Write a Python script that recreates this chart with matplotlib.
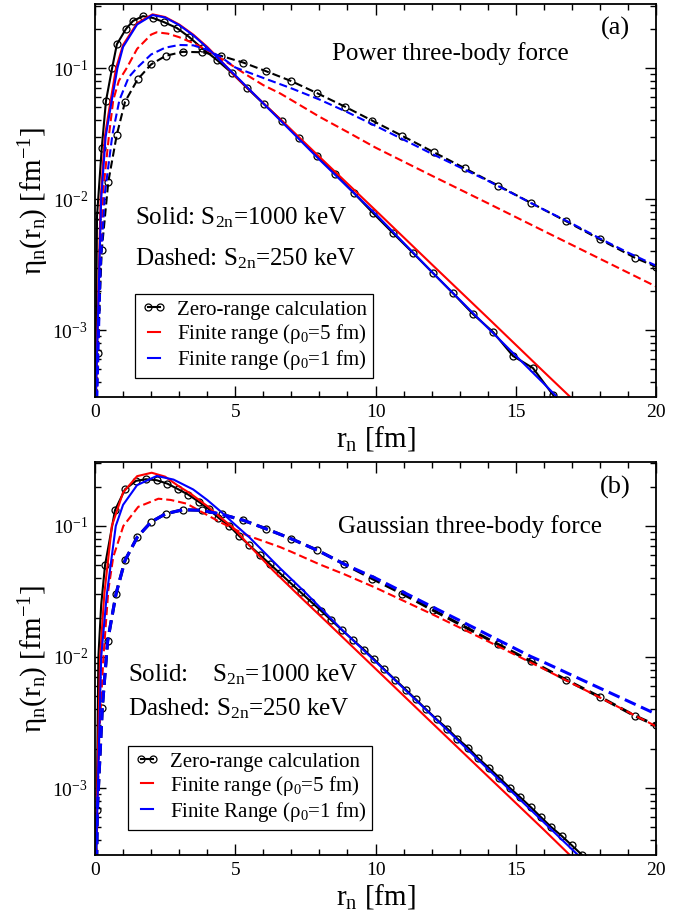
import matplotlib.pyplot as plt
from matplotlib.ticker import FixedLocator, LogLocator, MultipleLocator, NullFormatter

plt.rcParams['font.family'] = ['Liberation Serif', 'DejaVu Serif']
plt.rcParams['mathtext.fontset'] = 'custom'
plt.rcParams['mathtext.rm'] = 'Liberation Serif'
plt.rcParams['mathtext.it'] = 'Liberation Serif:italic'
plt.rcParams['mathtext.bf'] = 'Liberation Serif:bold'

# ---------------- panel (a): power three-body force ----------------
# zero-range, S2n = 1000 keV (solid, circles)
r_zr_s_a = [0.02, 0.046, 0.071, 0.24, 0.39, 0.61, 0.78, 1.105, 1.355, 1.71, 2.07, 2.46,
            2.92, 3.35, 3.81, 4.35, 4.88, 5.42, 6.02, 6.67, 7.27, 7.91, 8.56, 9.23,
            9.91, 10.62, 11.34, 12.05, 12.76, 13.48, 14.19, 14.9, 15.61, 16.33, 16.6]
eta_zr_s_a = [2e-4, 1.45e-3, 7.4e-3, 0.0245, 0.056, 0.1, 0.152, 0.199, 0.229, 0.249, 0.241, 0.224,
              0.202, 0.173, 0.142, 0.115, 0.0916, 0.0704, 0.0531, 0.0394, 0.0292, 0.0213, 0.0155, 0.0111,
              0.00782, 0.0055, 0.00387, 0.00272, 0.00191, 0.00132, 9.66e-4, 6.34e-4, 5.13e-4, 3.19e-4, 2.5e-4]
# zero-range, S2n = 250 keV (dashed, circles)
r_zr_d_a = [0.05, 0.096, 0.24, 0.474, 0.774, 1.07, 1.52, 2.0, 2.52, 3.13, 3.8, 4.49, 5.29,
            6.08, 6.99, 7.93, 8.91, 9.89, 10.96, 12.09, 13.19, 14.38, 15.53, 16.78, 18.0, 19.25, 20.0]
eta_zr_d_a = [2e-4, 6.67e-4, 4.08e-3, 0.01355, 0.0308, 0.0553, 0.082, 0.1066, 0.124, 0.133, 0.132, 0.124, 0.110,
              0.0949, 0.0796, 0.0641, 0.0507, 0.0396, 0.0303, 0.0227, 0.01713, 0.01264, 0.00937, 0.00679, 0.00492, 0.00356, 0.00304]
# finite range rho0 = 5 fm
r_fr5_s_a = [0.03, 0.2, 0.35, 0.56, 0.75, 1.0, 1.5, 2.05, 2.5, 3.0, 3.5, 4.0, 4.5, 5.0,
             6.0, 7.0, 8.0, 10.0, 12.0, 14.0, 16.0, 17.2]
eta_fr5_s_a = [3e-4, 0.01, 0.03, 0.057, 0.1, 0.15, 0.22, 0.257, 0.245, 0.215, 0.18, 0.145, 0.113, 0.0865,
               0.054, 0.0337, 0.021, 0.0082, 0.00318, 0.00124, 4.8e-4, 2.73e-4]
r_fr5_d_a = [0.06, 0.17, 0.3, 0.5, 0.65, 0.85, 1.13, 1.5, 2.0, 2.2, 2.6, 3.0, 3.5, 4.0, 4.5,
             5.0, 5.41, 6.0, 6.6, 7.0, 8.0, 9.09, 10.0, 12.0, 14.0, 16.0, 18.0, 20.0]
eta_fr5_d_a = [3e-4, 3e-3, 0.012, 0.031, 0.057, 0.08, 0.1, 0.14, 0.18, 0.1875, 0.183, 0.172, 0.155, 0.137, 0.118,
               0.101, 0.0885, 0.074, 0.064, 0.057, 0.0425, 0.0317, 0.0247, 0.0151, 0.0093, 0.0057, 0.0035, 0.00215]
# finite range rho0 = 1 fm
r_fr1_s_a = [0.03, 0.22, 0.38, 0.6, 0.8, 1.0, 1.5, 2.05, 2.5, 3.0, 3.5, 4.0, 4.5, 5.0,
             6.0, 7.0, 8.0, 10.0, 12.0, 14.0, 16.0, 16.7]
eta_fr1_s_a = [3e-4, 0.01, 0.03, 0.057, 0.1, 0.145, 0.215, 0.254, 0.243, 0.213, 0.178, 0.143, 0.112, 0.088,
               0.0537, 0.0328, 0.02, 0.0077, 0.00279, 1.04e-3, 3.9e-4, 2.75e-4]
r_fr1_d_a = [0.08, 0.2, 0.35, 0.62, 0.87, 1.2, 1.49, 2.0, 2.5, 3.0, 3.5, 4.0, 4.5, 5.0,
             6.0, 7.0, 8.0, 9.0, 10.0, 11.0, 12.0, 13.0, 14.0, 15.0, 16.0, 17.0, 18.0, 19.0, 20.0]
eta_fr1_d_a = [3e-4, 3e-3, 0.011, 0.031, 0.057, 0.085, 0.1, 0.127, 0.143, 0.150, 0.149, 0.138, 0.121, 0.101,
               0.084, 0.070, 0.0575, 0.046, 0.0362, 0.0284, 0.0222, 0.0175, 0.0138, 0.0107, 0.0083, 0.0065, 0.0050, 0.0039, 0.0031]

# ---------------- panel (b): Gaussian three-body force ----------------
r_zr_s_b = [0.02, 0.12, 0.22, 0.357, 0.713, 1.07, 1.46, 1.82, 2.2, 2.58, 2.95, 3.33, 3.71, 4.07,
            4.40, 4.79, 5.14, 5.5, 5.87, 6.24, 6.6, 6.97, 7.33, 7.7, 8.06, 8.42, 8.79, 9.21, 9.59,
            9.95, 10.31, 10.7, 11.08, 11.44, 11.8, 12.18, 12.56, 12.92, 13.31, 13.66, 14.05, 14.41,
            14.79, 15.15, 15.53, 15.89, 16.26, 16.64, 16.99, 17.37, 17.6]
eta_zr_s_b = [1e-4, 0.01, 0.025, 0.0501, 0.132, 0.1905, 0.221, 0.2275, 0.2235, 0.2105, 0.1915, 0.1733, 0.1525, 0.134,
              0.1156, 0.1, 0.0839, 0.0713, 0.0604, 0.0511, 0.0434, 0.0367, 0.0312, 0.0264, 0.0225, 0.0191, 0.01615, 0.0134, 0.01137,
              0.0096, 0.00805, 0.00671, 0.00563, 0.00475, 0.00399, 0.00334, 0.00284, 0.00238, 0.00202, 0.00169, 0.00142, 0.0012,
              0.001, 8.53e-4, 7.16e-4, 6.01e-4, 5.04e-4, 4.3e-4, 3.66e-4, 3.07e-4, 2.8e-4]
mark_zr_s_b = [0] + list(range(3, len(r_zr_s_b)))
r_zr_d_b = [0.05, 0.083, 0.26, 0.45, 0.75, 1.07, 1.51, 2.0, 2.52, 3.13, 3.8, 4.52, 5.29,
            6.08, 6.99, 7.93, 8.89, 9.89, 10.96, 12.06, 13.19, 14.36, 15.53, 16.78, 18.0, 19.25, 20.0]
eta_zr_d_b = [2e-4, 6.76e-4, 4.08e-3, 0.01324, 0.0304, 0.0547, 0.0824, 0.1074, 0.124, 0.133, 0.1318, 0.1227, 0.1105,
              0.0955, 0.080, 0.0652, 0.0511, 0.0396, 0.0304, 0.0227, 0.01694, 0.0125, 0.0093, 0.00671, 0.00495, 0.00355, 0.00301]
r_fr5_s_b = [0.03, 0.18, 0.33, 0.6, 1.0, 1.5, 2.02, 2.5, 3.0, 3.4, 4.0, 4.5, 4.93, 5.5,
             6.36, 7.3, 8.26, 10.0, 12.0, 14.0, 16.0, 17.2]
eta_fr5_s_b = [3e-4, 0.01, 0.03, 0.1, 0.18, 0.24, 0.255, 0.238, 0.2, 0.177, 0.142, 0.115, 0.097, 0.071,
               0.0455, 0.029, 0.0185, 0.00813, 0.00316, 0.00123, 4.8e-4, 2.7e-4]
r_fr5_d_b = [0.05, 0.15, 0.3, 0.475, 0.65, 1.01, 1.54, 2.26, 2.7, 3.27, 3.8, 4.46, 5.41,
             6.6, 7.0, 8.0, 8.9, 10.0, 12.0, 14.0, 16.0, 18.0, 20.0]
eta_fr5_d_b = [3e-4, 2.5e-3, 0.01, 0.0324, 0.058, 0.1, 0.14, 0.1615, 0.158, 0.148, 0.128, 0.107, 0.085,
               0.069, 0.0635, 0.051, 0.0427, 0.0338, 0.0213, 0.0132, 0.0081, 0.0049, 0.00296]
r_fr1_s_b = [0.04, 0.22, 0.42, 0.74, 1.0, 1.5, 2.2, 2.8, 3.5, 4.0, 4.5, 5.0, 5.5, 6.0,
             6.6, 7.5, 8.8, 10.0, 12.0, 14.0, 16.0, 17.2]
eta_fr1_s_b = [3e-4, 0.01, 0.03, 0.1, 0.145, 0.205, 0.241, 0.226, 0.19, 0.158, 0.128, 0.102, 0.082, 0.064,
               0.0475, 0.031, 0.0162, 0.00923, 0.0036, 0.0014, 5.47e-4, 3.1e-4]
r_fr1_d_b = [0.05, 0.083, 0.26, 0.45, 0.75, 1.07, 1.51, 2.0, 2.52, 3.13, 3.8, 4.52, 5.29,
             6.08, 6.99, 7.93, 8.89, 10.0, 11.0, 12.0, 13.0, 14.0, 15.0, 15.53, 16.0, 17.0, 18.0, 19.0, 20.0]
eta_fr1_d_b = [2e-4, 6.76e-4, 4.08e-3, 0.01324, 0.0304, 0.0547, 0.0824, 0.1074, 0.124, 0.133, 0.1318, 0.1227, 0.1105,
               0.0955, 0.080, 0.0652, 0.0511, 0.040, 0.0312, 0.0243, 0.019, 0.0148, 0.01153, 0.0101, 0.00912, 0.00726, 0.00578, 0.00461, 0.00367]

legend_a = ['Zero-range calculation', 'Finite range (ρ$_0$=5 fm)', 'Finite range (ρ$_0$=1 fm)']
legend_b = ['Zero-range calculation', 'Finite range (ρ$_0$=5 fm)', 'Finite Range (ρ$_0$=1 fm)']

RED = '#ff0000'
BLUE = '#0000ff'
DASH = (3.9, 1.9)


def style_axes(ax):
    ax.set_yscale('log')
    ax.set_xlim(0, 20)
    ax.set_ylim(3.08e-4, 0.308)
    ax.xaxis.set_major_locator(MultipleLocator(5))
    ax.xaxis.set_minor_locator(MultipleLocator(1))
    ax.yaxis.set_major_locator(FixedLocator([1e-3, 1e-2, 1e-1]))
    ax.yaxis.set_minor_locator(LogLocator(base=10, subs=range(2, 10)))
    ax.yaxis.set_minor_formatter(NullFormatter())
    ax.set_yticklabels([r'$10^{-3}$', r'$10^{-2}$', r'$10^{-1}$'])
    ax.tick_params(which='both', direction='in', top=True, right=True, labelsize=14)
    ax.tick_params(which='major', length=8, width=1.0, pad=5)
    ax.tick_params(which='minor', length=4.5, width=1.0)
    for sp in ax.spines.values():
        sp.set_linewidth(1.3)
    ax.set_xlabel(r'$\mathrm{r_n}$ [fm]', fontsize=21, labelpad=2)
    ax.set_ylabel(r'$\mathrm{η_n(r_n)}$ [fm$^{-1}$]', fontsize=21, labelpad=1)


def draw_panel(ax, d, dash_lw_b, mark_s):
    (rzs, ezs, rzd, ezd, r5s, e5s, r5d, e5d, r1s, e1s, r1d, e1d) = d
    h0, = ax.plot(rzs, ezs, '-', color='black', lw=1.5, marker='o', ms=5.0,
                  mfc='none', mec='black', mew=0.9, markevery=mark_s)
    ax.plot(rzd, ezd, color='black', lw=dash_lw_b, dashes=DASH, marker='o', ms=5.0,
            mfc='none', mec='black', mew=0.9)
    h1, = ax.plot(r5s, e5s, '-', color=RED, lw=1.5)
    ax.plot(r5d, e5d, color=RED, lw=1.5, dashes=DASH)
    h2, = ax.plot(r1s, e1s, '-', color=BLUE, lw=1.5)
    ax.plot(r1d, e1d, color=BLUE, lw=dash_lw_b, dashes=DASH)
    return [h0, h1, h2]


fig = plt.figure(figsize=(6.89, 9.17), dpi=100)

ax_a = fig.add_axes([0.1379, 0.567, 0.8143, 0.4286])
ax_b = fig.add_axes([0.1379, 0.0676, 0.8143, 0.4286])

data_a = (r_zr_s_a, eta_zr_s_a, r_zr_d_a, eta_zr_d_a, r_fr5_s_a, eta_fr5_s_a,
          r_fr5_d_a, eta_fr5_d_a, r_fr1_s_a, eta_fr1_s_a, r_fr1_d_a, eta_fr1_d_a)
data_b = (r_zr_s_b, eta_zr_s_b, r_zr_d_b, eta_zr_d_b, r_fr5_s_b, eta_fr5_s_b,
          r_fr5_d_b, eta_fr5_d_b, r_fr1_s_b, eta_fr1_s_b, r_fr1_d_b, eta_fr1_d_b)

ha = draw_panel(ax_a, data_a, 1.5, None)
hb = draw_panel(ax_b, data_b, 2.2, mark_zr_s_b)

panels = [
    (ax_a, ha, legend_a, (0.0713, 0.048), '(a)', 0.939, 'Power three-body force', 0.633, 0.875,
     r'Solid: S$_\mathrm{2n}$=1000 keV', 0.0713, 0.44, 0.336),
    (ax_b, hb, legend_b, (0.0588, 0.0636), '(b)', 0.934, 'Gaussian three-body force', 0.668, 0.835,
     r'Solid:    S$_\mathrm{2n}$=1000 keV', 0.0588, 0.443, 0.356),
]
for (ax, hs, labs, anchor, tag, tag_y, title, tx, ty, solid, sx, sy, dy) in panels:
    style_axes(ax)
    leg = ax.legend(hs, labs, loc='lower left', bbox_to_anchor=anchor, fontsize=15,
                    numpoints=2, handlelength=1.2, handletextpad=0.5, labelspacing=0.1,
                    borderpad=0.3, borderaxespad=0, fancybox=False, framealpha=1,
                    edgecolor='black')
    leg.get_frame().set_linewidth(0.9)
    ax.text(0.927, tag_y, tag, transform=ax.transAxes, fontsize=19, ha='center', va='center')
    ax.text(tx, ty, title, transform=ax.transAxes, fontsize=18, ha='center', va='center')
    ax.text(sx, sy, solid, transform=ax.transAxes, fontsize=18, ha='left', va='baseline')
    ax.text(sx, dy, r'Dashed: S$_\mathrm{2n}$=250 keV', transform=ax.transAxes,
            fontsize=18, ha='left', va='baseline')

fig.savefig('out.png', dpi=100)
